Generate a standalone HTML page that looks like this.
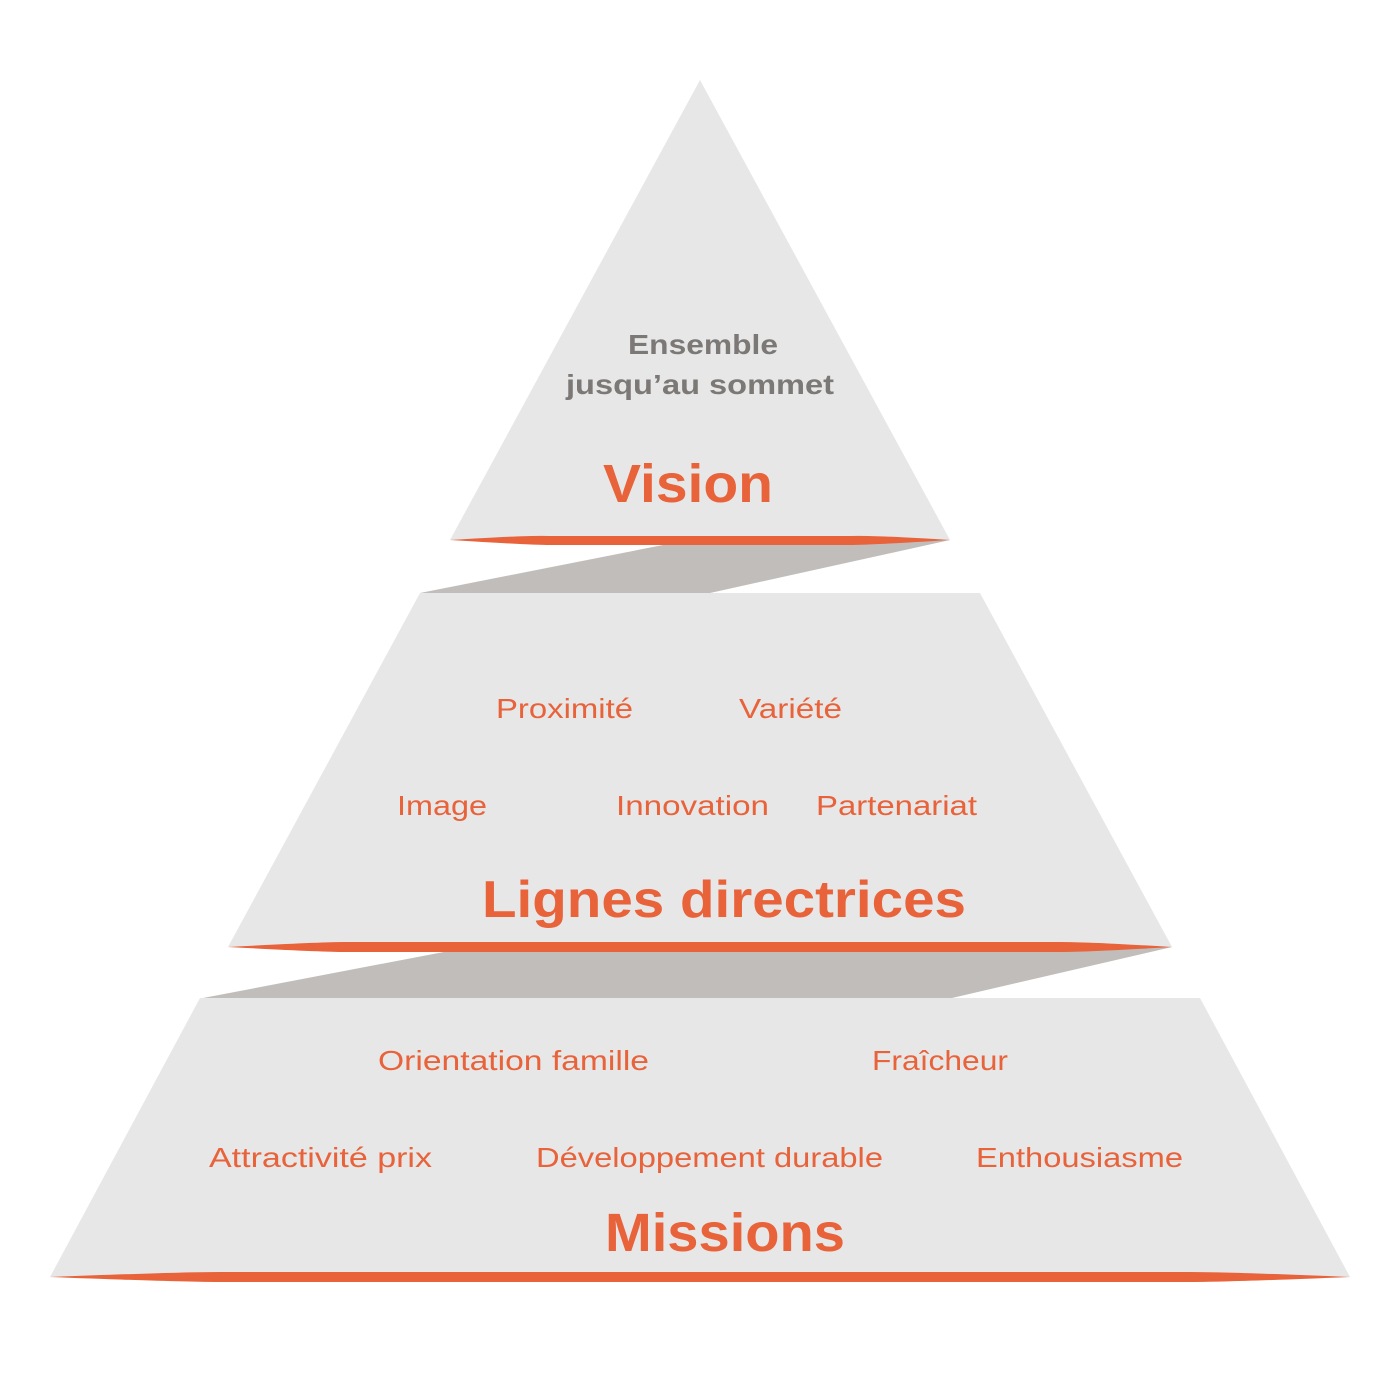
<!DOCTYPE html>
<html><head><meta charset="utf-8"><style>html,body{margin:0;padding:0;background:#fff}svg{display:block}</style></head>
<body>
<svg width="1400" height="1400" viewBox="0 0 1400 1400" xmlns="http://www.w3.org/2000/svg">
<rect width="1400" height="1400" fill="#fff"/>
<!-- shapes -->
<polygon points="700,80 450,540 950,540" fill="#e7e7e8"/>
<polygon points="663,545 950,540 710,593 420,593" fill="#c1bdba"/>
<polygon points="420,593 980,593 1172,947 228,947" fill="#e7e7e8"/>
<polygon points="449,951 1172,947 952,998 203,998" fill="#c1bdba"/>
<polygon points="200,998 1200,998 1350,1277 50,1277" fill="#e7e7e8"/>
<!-- orange lenses -->
<path d="M450,540 Q530,535 550,536 L850,536 Q870,535 950,540 Q870,545 850,545 L550,545 Q530,545 450,540 Z" fill="#e8623a"/>
<path d="M228,947 Q320,942 345,942 L1060,942 Q1090,942 1172,947 Q1090,952 1060,952 L345,952 Q320,952 228,947 Z" fill="#e8623a"/>
<path d="M50,1277 Q180,1272 220,1272 L1190,1272 Q1230,1272 1350,1277 Q1230,1282 1190,1282 L220,1282 Q180,1282 50,1277 Z" fill="#e8623a"/>
<g font-family="Liberation Sans, sans-serif">
<text x="628" y="354" font-size="28" font-weight="bold" fill="#7b7875" textLength="150" lengthAdjust="spacingAndGlyphs">Ensemble</text>
<text x="566" y="394" font-size="28" font-weight="bold" fill="#7b7875" textLength="268" lengthAdjust="spacingAndGlyphs">jusqu’au sommet</text>
<text x="603" y="502" font-size="54" font-weight="bold" fill="#e8623a" textLength="170" lengthAdjust="spacingAndGlyphs">Vision</text>
<g font-size="28" fill="#e8623a">
<text x="496" y="718" textLength="137" lengthAdjust="spacingAndGlyphs">Proximité</text>
<text x="739" y="718" textLength="103" lengthAdjust="spacingAndGlyphs">Variété</text>
<text x="397" y="815" textLength="90" lengthAdjust="spacingAndGlyphs">Image</text>
<text x="616" y="815" textLength="153" lengthAdjust="spacingAndGlyphs">Innovation</text>
<text x="816" y="815" textLength="161" lengthAdjust="spacingAndGlyphs">Partenariat</text>
<text x="378" y="1070" textLength="271" lengthAdjust="spacingAndGlyphs">Orientation famille</text>
<text x="872" y="1070" textLength="136" lengthAdjust="spacingAndGlyphs">Fraîcheur</text>
<text x="209" y="1167" textLength="223" lengthAdjust="spacingAndGlyphs">Attractivité prix</text>
<text x="536" y="1167" textLength="347" lengthAdjust="spacingAndGlyphs">Développement durable</text>
<text x="976" y="1167" textLength="207" lengthAdjust="spacingAndGlyphs">Enthousiasme</text>
</g>
<text x="482" y="917" font-size="52" font-weight="bold" fill="#e8623a" textLength="484" lengthAdjust="spacingAndGlyphs">Lignes directrices</text>
<text x="605" y="1251" font-size="54" font-weight="bold" fill="#e8623a" textLength="240" lengthAdjust="spacingAndGlyphs">Missions</text>
</g>
</svg>
</body></html>
